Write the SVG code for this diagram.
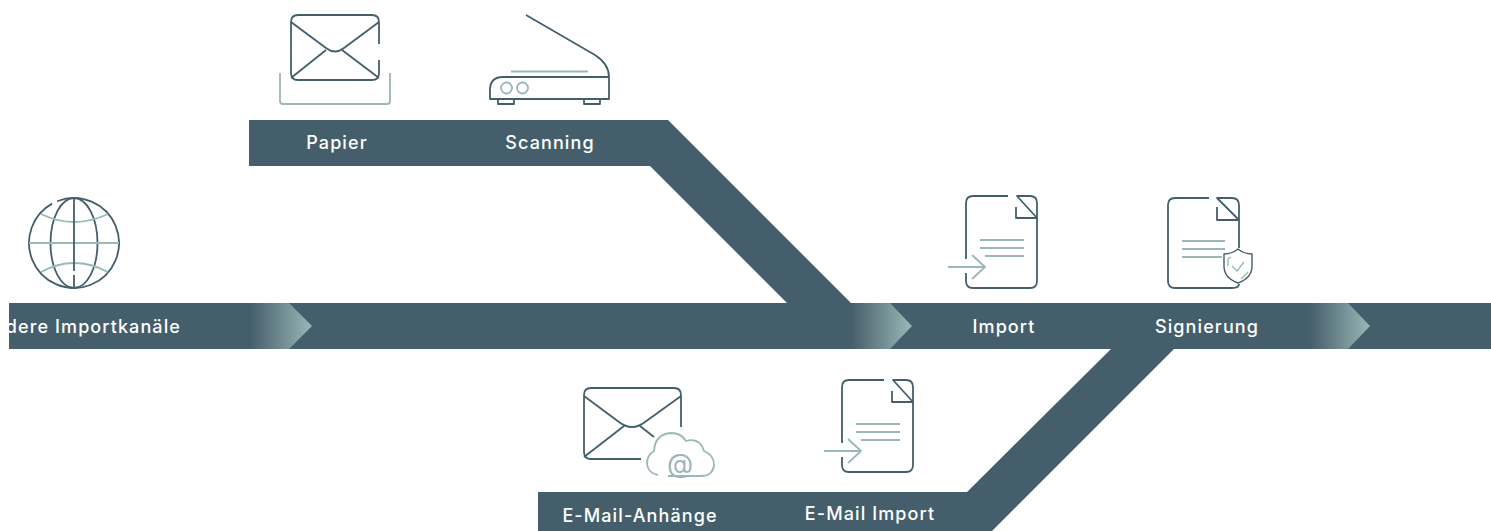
<svg xmlns="http://www.w3.org/2000/svg" width="1491" height="531" viewBox="0 0 1491 531">
<style>
.band{fill:#445f6b}
.d{fill:none;stroke:#445f6b;stroke-width:1.8;stroke-linecap:butt;stroke-linejoin:round}
.t{fill:none;stroke:#9ab8b6;stroke-width:1.8;stroke-linejoin:round}
.s{stroke-width:1.4}
text{font-family:"Inter","Liberation Sans",sans-serif;font-size:18px;letter-spacing:1.1px;fill:#fff;font-weight:500}
</style>
<defs>
<linearGradient id="g"><stop offset="0" stop-color="#445f6b"/><stop offset=".2" stop-color="#566f79"/><stop offset="1" stop-color="#9ab8b6"/></linearGradient>
<g id="doc">
<path class="d" d="M1008 196H973q-7 0-7 7V259M966 273V281q0 7 7 7H1030q7 0 7-7V203q0-7-7-7H1017L1037 218H1016V207"/>
<path class="t" d="M980 240H1024M980 248H1024M985 256H1024M948 267H985M972 255L985 267L972 279"/>
</g>
</defs>
<g id="connectors">
<path class="band" d="M249 120H668L851 303H1491V349H1174L992 531H538V492H967L1111 349H9V303H787L650 166H249Z"/>
<path fill="url(#g)" d="M250 303H289L312 326L289 349H250Z"/>
<path fill="url(#g)" d="M851 303H890L912 326L890 349H851Z"/>
<path fill="url(#g)" d="M1310 303H1348L1370 326L1348 349H1310Z"/>
</g>
<g id="node-andere">
<circle class="d" cx="74" cy="243" r="45" stroke-dasharray="276.700 6" transform="rotate(-112 74 243)"/>
<ellipse class="d" cx="74" cy="243" rx="23.500" ry="45"/>
<path class="t" d="M29 243H119M41 214Q74 230 108 214M41 272Q74 254 108 272"/>
<path class="d" d="M74 198V271M74 275V288"/>
<text x="181" y="333" text-anchor="end">dere Importkanäle</text>
</g>
<g id="node-papier">
<path class="d" d="M379 44V22q0-7-7-7H298q-7 0-7 7V73q0 7 7 7H372q7 0 7-7V60M291 22L326 48Q335 55 344 48L379 22M291 78L326 50M342 50L379 78"/>
<path class="t" d="M280 73V101q0 3 3 3H387q3 0 3-3V73"/>
<text x="337" y="149" text-anchor="middle">Papier</text>
</g>
<g id="node-scanning">
<path class="d" d="M526 15L595 55Q609 64 609 77V99H490V90Q490 77 503 77H609M498 99V104H514V99M584 99V104H600V99"/>
<path class="t" d="M511 71.500H588"/>
<circle class="t" cx="506.500" cy="88" r="5.500"/><circle class="t" cx="522.500" cy="88" r="5.500"/>
<text x="550" y="149" text-anchor="middle">Scanning</text>
</g>
<g id="node-import">
<use href="#doc"/>
<text x="1004" y="333" text-anchor="middle">Import</text>
</g>
<g id="node-signierung">
<path class="d" d="M1209 198H1175q-7 0-7 7V281q0 7 7 7H1232q7 0 7-4M1239 248V205q0-7-7-7H1217L1239 220H1217V207"/>
<path class="t" d="M1182 241H1225M1182 249H1225M1182 257H1222"/>
<path class="d s" d="M1238 249Q1232 254 1224 254V266Q1224 278 1238 283Q1252 278 1252 266V254Q1244 254 1238 249Z"/>
<path class="t s" d="M1232 266L1237 271L1244 262M1228 266V259L1231 257M1241 279L1248 272"/>
<text x="1207" y="333" text-anchor="middle">Signierung</text>
</g>
<g id="node-mail">
<path class="d" d="M681 427V395q0-7-7-7H591q-7 0-7 7V452q0 7 7 7H641M584 396L619 422Q632 432 645 422L681 396M584 457L624 426M640 426L654 437"/>
<path class="t" d="M658 475Q648 473 647 464Q647 455 654 451Q655 434 671 433Q681 433 686 441Q700 437 704 451Q714 455 714 465Q713 476 701 476H668"/>
<text x="680" y="473" text-anchor="middle" style="fill:#9ab8b6;font-size:27px;font-weight:400;letter-spacing:0">@</text>
<text x="640" y="522" text-anchor="middle">E-Mail-Anhänge</text>
</g>
<g id="node-mailimport">
<use href="#doc" x="-124" y="184"/>
<text x="870" y="520" text-anchor="middle">E-Mail Import</text>
</g>
</svg>
